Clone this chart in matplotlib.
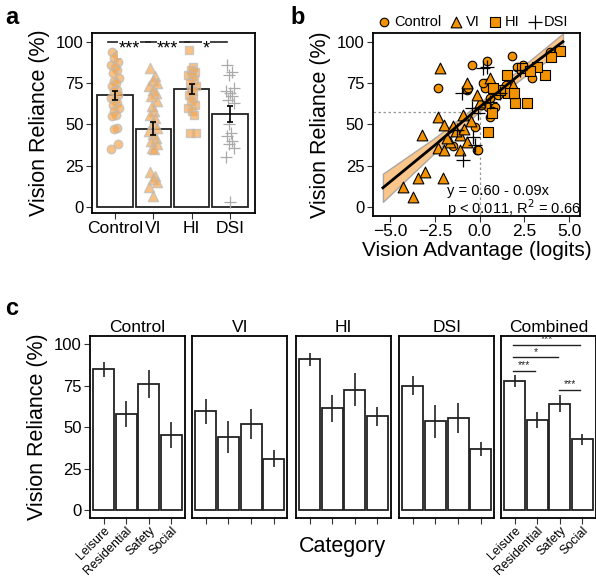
import numpy as np
import matplotlib.pyplot as plt

plt.rcParams['font.family'] = ['Liberation Sans', 'DejaVu Sans']

# ---- panel a data ----
groups = ['Control', 'VI', 'HI', 'DSI']
group_means = [67.5, 47.5, 71.5, 56.5]
group_errs = [2.6, 3.8, 2.8, 4.8]
ctrl_pts = [94, 92, 90, 88, 86, 85, 83, 81, 78, 76, 75, 73, 71, 70, 68, 66, 65, 63, 62,
            60, 58, 56, 55, 48, 47, 38, 35]
vi_pts = [84, 79, 77, 75, 73, 71, 69, 67, 64, 61, 58, 56, 54, 51, 48, 46, 44, 42, 40, 38,
          36, 35, 21, 19, 17, 15, 12, 7]
hi_pts = [95, 85, 83, 82, 80, 79, 77, 75, 73, 71, 70, 68, 66, 64, 62, 60, 58, 56, 45, 45]
dsi_pts = [86, 82, 80, 72, 70, 69, 67, 65, 63, 50, 45, 43, 40, 38, 36, 30, 3]
sig_a = ['***', '***', '*']

# ---- panel b data ----
ctrl_x = [-2.32, -0.45, 0.39, 1.78, 3.92, 3.98, 2.43, 2.9, 1.48, 0.37, 0.28, 0.56, 0.47,
          0.56, -0.26, -0.17, -1.47, -0.73, 0.85, 2.06, -0.63, 0.2, 0.1, 1.0, 0.7, -0.08]
ctrl_y = [71.9, 85.9, 88.5, 91.4, 94, 91, 85.9, 77.9, 73.9, 74.9, 71.9, 65.8, 60.8,
          54.7, 48.7, 34.6, 37.2, 70.8, 60.8, 84.9, 71.8, 74.9, 62, 68, 58, 34.6]
vi_x = [-2.21, -0.73, 0.57, 1.87, -2.32, -3.24, -1.97, -0.93, -1.48, 0.02, -0.17, -2.32,
        -1.97, -1.1, -1.64, -1.1, -0.73, -4.26, -3.7, -3.42, -3.05, -2.03, -1.3, -0.5,
        -1.8, -0.9]
vi_y = [83.9, 74.9, 77.9, 73.9, 54.7, 43.7, 49.7, 55.7, 48.8, 63.8, 67.8, 35.6, 34.6,
        34.6, 39.6, 43.7, 39.6, 12.4, 6.4, 17.5, 21.5, 17.5, 46, 52, 42, 47]
hi_x = [4.48, 1.5, 3.64, 1.97, 2.62, 0.67, 0.48, 1.6, 1.11, 0.74, 2.34, 3.2, 1.91, 4.0, 2.8]
hi_y = [94.4, 79.9, 79.9, 62.8, 62.8, 56.8, 45.7, 68.8, 70.8, 71.9, 83.9, 85.0, 69.2, 91, 82]
dsi_x = [0.2, -1.0, -0.45, -0.36, -0.26, -0.91, 2.25, 1.13, -1.28, 0.57, -0.08, 0.39]
dsi_y = [83.9, 68.8, 59.8, 42.6, 37.6, 28.6, 82.9, 68.8, 46.7, 63.8, 57, 84.9]
fit_x = [-5.4, -2.5, 0.0, 2.5, 4.65]
fit_y = [11.8, 37.5, 60.5, 82.5, 100.0]
fit_half = [8.5, 4.5, 2.5, 3.5, 5.0]
ref_x, ref_y = 0.0, 57.7

# ---- panel c data ----
cats = ['Leisure', 'Residential', 'Safety', 'Social']
panels = ['Control', 'VI', 'HI', 'DSI', 'Combined']
cat_means = {
    'Control': [85, 58, 76, 45.5],
    'VI': [59.5, 44, 52, 31],
    'HI': [91, 61.5, 72.5, 56.5],
    'DSI': [75, 53.5, 55.5, 37],
    'Combined': [78, 54.3, 64.2, 42.6],
}
cat_errs = {
    'Control': [4.5, 8, 8.3, 7.8],
    'VI': [7.5, 9.6, 9, 5],
    'HI': [4, 8.2, 10, 5.7],
    'DSI': [5.8, 9.9, 8.9, 4.3],
    'Combined': [3.7, 4.7, 5, 3.4],
}
sig_c = [(0, 3, '***'), (0, 2, '*'), (0, 1, '***'), (2, 3, '***')]

orange = '#F39200'
tick_gray = '#333333'
lab_fs = 15.5

fig = plt.figure(figsize=(5.96, 5.77), dpi=100)


def style(ax):
    for s in ax.spines.values():
        s.set_linewidth(1.3)
    ax.tick_params(length=4, width=0.8, color=tick_gray, labelsize=12, pad=2)


# ---------------- a ----------------
ax = fig.add_axes([0.1544, 0.6308, 0.2735, 0.312])
pos = np.arange(4)
ax.bar(pos, group_means, width=0.92, color='white', edgecolor='#222222', linewidth=1.3, zorder=1)
jit = np.array([-0.08, 0.04, -0.02, 0.09, -0.11, 0.0, 0.06, -0.05, 0.1, -0.03, 0.02])
pts = [ctrl_pts, vi_pts, hi_pts, dsi_pts]
marks = ['o', '^', 's', '+']
for i, (p, m) in enumerate(zip(pts, marks)):
    xs = i + np.resize(jit, len(p))
    if m == '+':
        ax.scatter(xs, p, marker='+', s=70, color='#AAAAAA', linewidths=0.9, zorder=2)
    else:
        ax.scatter(xs, p, marker=m, s=38 if m != '^' else 55, facecolor='#F7A850',
                   edgecolor='#BBBBBB', linewidth=1.0, alpha=0.7, zorder=2)
ax.errorbar(pos, group_means, yerr=group_errs, fmt='none', ecolor='black', elinewidth=1.2,
            capsize=2.5, capthick=1.2, zorder=3)
for i, lab in enumerate(sig_a):
    x0, x1 = i - 0.18, i + 0.92
    ax.plot([x0, x1], [100, 100], color='#222222', lw=1.2, zorder=3)
    ax.text((x0 + x1) / 2, 95.8, lab, ha='center', va='center', fontsize=13,
            bbox=dict(facecolor='white', edgecolor='none', pad=0.2), zorder=4)
ax.set_xlim(-0.6, 3.65)
ax.set_ylim(-3.6, 105.3)
ax.set_yticks([0, 25, 50, 75, 100])
ax.set_xticks(pos)
ax.set_xticklabels(groups)
ax.set_ylabel('Vision Reliance (%)', fontsize=lab_fs, labelpad=4)
style(ax)
ax.tick_params(axis='x', labelsize=12.5)
fig.text(0.008, 0.97, 'a', fontsize=17, fontweight='bold', va='center')

# ---------------- b ----------------
bx = fig.add_axes([0.6253, 0.6256, 0.3478, 0.3177])
fx = np.array(fit_x)
fy = np.array(fit_y)
fh = np.array(fit_half)
bx.fill_between(fx, fy - fh, fy + fh, facecolor='#F9B870', edgecolor='#999999',
                alpha=0.8, linewidth=1.0, zorder=1)
bx.plot([-6.5, ref_x], [ref_y, ref_y], ls=(0, (2, 2)), color='#999999', lw=0.9, zorder=1)
bx.plot([ref_x, ref_x], [ref_y, -10], ls=(0, (2, 2)), color='#999999', lw=0.9, zorder=1)
sc_kw = dict(facecolor=orange, edgecolor='black', linewidth=0.8, zorder=3)
bx.scatter(ctrl_x, ctrl_y, marker='o', s=38, label='Control', **sc_kw)
bx.scatter(vi_x, vi_y, marker='^', s=60, label='VI', **sc_kw)
bx.scatter(hi_x, hi_y, marker='s', s=42, label='HI', **sc_kw)
bx.scatter(dsi_x, dsi_y, marker='+', s=90, color='black', linewidths=0.9, label='DSI', zorder=3)
bx.plot(fx, fy, color='black', lw=2.0, zorder=4)
bx.text(0.36, 0.135, 'y = 0.60 - 0.09x', transform=bx.transAxes, ha='left', va='center',
        fontsize=10.5)
bx.text(0.36, 0.045, 'p < 0.011, R$^2$ = 0.66', transform=bx.transAxes, ha='left',
        va='center', fontsize=10.5)
bx.set_xlim(-5.97, 5.6)
bx.set_ylim(-5.25, 105.4)
bx.set_xticks([-5, -2.5, 0, 2.5, 5])
bx.set_xticklabels(['\u22125.0', '\u22122.5', '0.0', '2.5', '5.0'])
bx.set_yticks([0, 25, 50, 75, 100])
bx.set_xlabel('Vision Advantage (logits)', fontsize=15, labelpad=1)
bx.set_ylabel('Vision Reliance (%)', fontsize=lab_fs, labelpad=4)
style(bx)
bx.tick_params(axis='x', labelsize=12.5)
bx.legend(loc='lower center', bbox_to_anchor=(0.48, 0.995), ncol=4, frameon=False,
          fontsize=10.5, handletextpad=0.05, columnspacing=0.45, borderaxespad=0.1,
          handlelength=1.2, borderpad=0.2)
fig.text(0.487, 0.97, 'b', fontsize=17, fontweight='bold', va='center')

# ---------------- c ----------------
lefts = [90, 192.3, 296, 399.3, 501]
cpos = np.arange(4)
for k, (name, lx) in enumerate(zip(panels, lefts)):
    cx = fig.add_axes([lx / 596, 0.1017, 95 / 596, 0.3165])
    cx.bar(cpos, cat_means[name], width=0.93, color='white', edgecolor='#222222', linewidth=1.3)
    cx.errorbar(cpos, cat_means[name], yerr=cat_errs[name], fmt='none', ecolor='#222222',
                elinewidth=1.2, capsize=0)
    cx.set_xlim(-0.6, 3.6)
    cx.set_ylim(-5, 105.2)
    cx.set_title(name, fontsize=12.5, pad=3)
    cx.set_xticks(cpos)
    style(cx)
    if name in ('Control', 'Combined'):
        cx.set_xticklabels(cats, rotation=45, ha='right', rotation_mode='anchor', fontsize=9)
        cx.tick_params(axis='x', pad=0.5)
    else:
        cx.set_xticklabels([])
    if k == 0:
        cx.set_yticks([0, 25, 50, 75, 100])
        cx.set_ylabel('Vision Reliance (%)', fontsize=lab_fs, labelpad=4)
    else:
        cx.set_yticks([])
    if name == 'Combined':
        for (i, j, lab), yy in zip(sig_c, [99.6, 92.2, 84.1, 72.4]):
            cx.plot([i - 0.05, j - 0.1], [yy, yy], color='#222222', lw=1.0)
            cx.text((i + j) / 2 - 0.07, yy + 0.3, lab, ha='center', va='bottom',
                    fontsize=7.5, color='#222222')
fig.text(0.574, 0.052, 'Category', fontsize=lab_fs, ha='center', va='center')
fig.text(0.008, 0.465, 'c', fontsize=17, fontweight='bold', va='center')

fig.savefig('out.png', dpi=100)
